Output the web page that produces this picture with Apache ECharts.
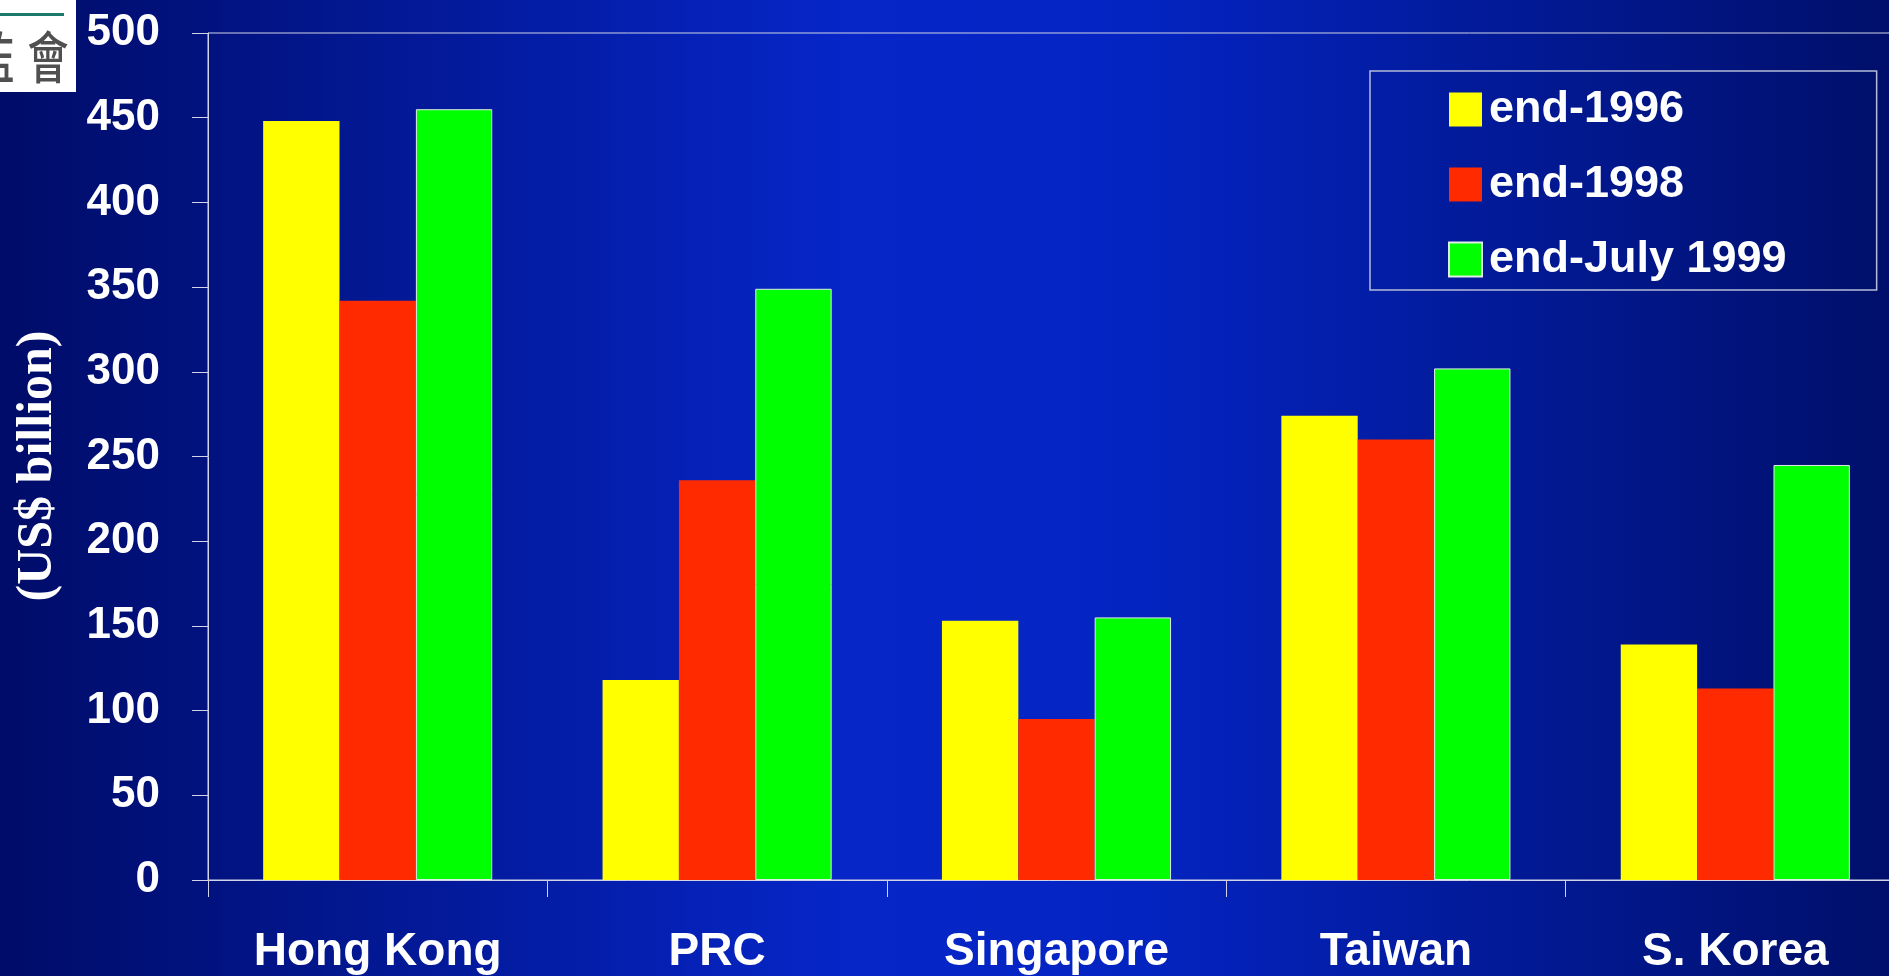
<!DOCTYPE html>
<html>
<head>
<meta charset="utf-8">
<script src="https://cdn.jsdelivr.net/npm/echarts@6/dist/echarts.min.js"></script>
<style>
html,body{margin:0;padding:0;width:1889px;height:976px;overflow:hidden;background:#03188f;}
#chart{width:1889px;height:976px;}
</style>
</head>
<body>
<div id="chart"></div>
<script>
const categories = ['Hong Kong', 'PRC', 'Singapore', 'Taiwan', 'S. Korea'];
const seriesNames = ['end-1996', 'end-1998', 'end-July 1999'];
const end1996 = [448, 118, 153, 274, 139];
const end1998 = [342, 236, 95, 260, 113];
const endJuly1999 = [455, 349, 155, 302, 245];
const yTicks = { min: 0, max: 500, interval: 50 };
const yAxisTitle = '(US$ billion)';

const sansBold = 'Arial, "Liberation Sans", sans-serif';
const lineColor = '#d0d4e6';

const chart = echarts.init(document.getElementById('chart'));
chart.setOption({
  backgroundColor: {
    type: 'linear', x: 0, y: 0, x2: 1, y2: 0,
    colorStops: [
      { offset: 0, color: '#000c68' },
      { offset: 0.45, color: '#0626c8' },
      { offset: 0.6, color: '#0424c2' },
      { offset: 1, color: '#000f6a' }
    ]
  },
  animation: false,
  grid: {
    left: 208, top: 33, bottom: 96, width: 1697,
    outerBoundsMode: 'none',
    containLabel: false,
    show: true, borderColor: lineColor, borderWidth: 1,
    backgroundColor: 'transparent'
  },
  legend: {
    orient: 'vertical',
    left: 1370, top: 71,
    padding: [16, 90, 8, 78],
    itemGap: 30,
    itemWidth: 33, itemHeight: 34,
    icon: 'rect',
    borderColor: '#b4bcd8', borderWidth: 1.5,
    textStyle: { color: '#ffffff', fontFamily: sansBold, fontWeight: 'bold', fontSize: 45, padding: [0, 0, 0, 2] },
    data: seriesNames
  },
  xAxis: {
    type: 'category',
    data: categories,
    axisLine: { lineStyle: { color: lineColor, width: 1 } },
    axisTick: { show: true, length: 17, lineStyle: { color: lineColor, width: 1 } },
    axisLabel: { color: '#ffffff', fontFamily: sansBold, fontWeight: 'bold', fontSize: 46, margin: 49 },
    splitLine: { show: false }
  },
  yAxis: {
    type: 'value',
    min: yTicks.min, max: yTicks.max, interval: yTicks.interval,
    axisLine: { show: true, lineStyle: { color: lineColor, width: 1 } },
    axisTick: { show: true, length: 16, lineStyle: { color: lineColor, width: 1 } },
    axisLabel: { color: '#ffffff', fontFamily: sansBold, fontWeight: 'bold', fontSize: 44, margin: 48 },
    splitLine: { show: false }
  },
  series: [
    { name: seriesNames[0], type: 'bar', data: end1996, barGap: '0%', barCategoryGap: '32.5%',
      itemStyle: { color: '#ffff00' } },
    { name: seriesNames[1], type: 'bar', data: end1998, barGap: '0%', barCategoryGap: '32.5%',
      itemStyle: { color: '#ff2a00' } },
    { name: seriesNames[2], type: 'bar', data: endJuly1999, barGap: '0%', barCategoryGap: '32.5%',
      itemStyle: { color: '#00ff00', borderColor: '#dfeee6', borderWidth: 1 } }
  ],
  graphic: [
    { type: 'text', x: 38, y: 466, rotation: Math.PI / 2, z: 5,
      style: { text: yAxisTitle, fill: '#ffffff', font: 'bold 50px "Liberation Serif", "Times New Roman", serif', align: 'center', verticalAlign: 'middle' } },
    { type: 'rect', left: 0, top: 0, shape: { width: 76, height: 92 }, style: { fill: '#ffffff' }, z: 10 },
    { type: 'rect', left: 0, top: 13, shape: { width: 64, height: 3 }, style: { fill: '#1b7a6c' }, z: 11 },
    { type: 'text', x: 48, y: 57, scaleY: 1.35, z: 11,
      style: { text: '會', fill: '#505050', font: '500 41px "Noto Sans CJK TC"', align: 'center', verticalAlign: 'middle' } },
    { type: 'text', x: -6, y: 57, scaleY: 1.35, z: 11,
      style: { text: '監', fill: '#505050', font: '500 41px "Noto Sans CJK TC"', align: 'center', verticalAlign: 'middle' } }
  ]
});
</script>
</body>
</html>
